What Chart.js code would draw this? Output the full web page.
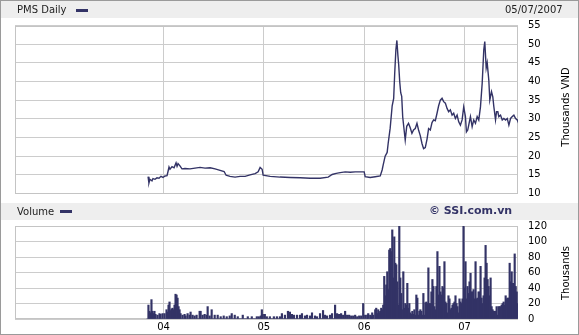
<!DOCTYPE html>
<html><head><meta charset="utf-8">
<script src="https://cdn.jsdelivr.net/npm/chart.js@4"></script>
<style>
html,body{margin:0;padding:0;background:#fff;}
#wrap{position:relative;width:579px;height:335px;overflow:hidden;font-family:"DejaVu Sans",Verdana,sans-serif;background:#fff;}
.band{position:absolute;left:1px;width:577px;background:#eeeeee;}
.lbl{position:absolute;font-size:10px;color:#222;line-height:12px;white-space:nowrap;}
.key{position:absolute;width:12px;height:3px;background:#333366;}
canvas{position:absolute;left:0;top:0;}
.ytitle{position:absolute;font-size:10px;color:#000;white-space:nowrap;line-height:12px;transform:translate(-50%,-50%) rotate(-90deg);}
#border{position:absolute;left:0;top:0;width:579px;height:335px;box-sizing:border-box;border:1px solid #9a9a9a;pointer-events:none;}
</style></head>
<body>
<div id="wrap">
  <div class="band" style="top:1px;height:17px;"></div>
  <div class="band" style="top:203px;height:17px;"></div>
  <canvas id="priceChart" width="579" height="335"></canvas>
  <canvas id="volChart" width="579" height="335"></canvas>
  <div class="lbl" style="left:17px;top:4px;">PMS Daily</div>
  <div class="key" style="left:76px;top:9px;"></div>
  <div class="lbl" style="left:505px;top:4px;">05/07/2007</div>
  <div class="lbl" style="left:17px;top:206px;">Volume</div>
  <div class="key" style="left:60px;top:210px;"></div>
  <div class="lbl" style="left:429px;top:205px;font-weight:bold;font-size:11px;color:#333366;">© SSI.com.vn</div>
  <div class="ytitle" style="left:566px;top:107px;">Thousands VND</div>
  <div class="ytitle" style="left:566px;top:273px;">Thousands</div>
  <div id="border"></div>
</div>
<script>
// ---- data ----
// price: time in decimal years, close in thousands VND
const priceDates = [
 2003.846,2003.855,2003.865,2003.885,2003.895,2003.915,2003.935,2003.955,2003.975,2003.995,
 2004.015,2004.035,2004.045,2004.055,2004.065,2004.085,2004.105,2004.125,2004.135,2004.145,
 2004.164,2004.184,2004.214,2004.264,2004.314,2004.364,2004.414,2004.464,2004.514,2004.564,
 2004.604,2004.624,2004.663,2004.713,2004.763,2004.813,2004.863,2004.913,2004.943,2004.963,
 2004.983,2004.993,2005.063,2005.162,2005.262,2005.362,2005.462,2005.561,2005.641,2005.681,
 2005.721,2005.761,2005.811,2005.861,2005.911,2005.960,2006.000,2006.010,2006.060,2006.110,
 2006.160,2006.179,2006.189,2006.209,2006.229,2006.239,2006.259,2006.279,2006.294,2006.304,
 2006.316,2006.326,2006.336,2006.344,2006.354,2006.364,2006.374,2006.384,2006.394,2006.409,
 2006.424,2006.442,2006.459,2006.476,2006.492,2006.509,2006.526,2006.542,2006.559,2006.576,
 2006.592,2006.609,2006.626,2006.642,2006.659,2006.676,2006.692,2006.709,2006.726,2006.742,
 2006.759,2006.776,2006.792,2006.809,2006.826,2006.842,2006.859,2006.876,2006.892,2006.909,
 2006.926,2006.942,2006.959,2006.976,2006.992,2007.009,2007.019,2007.032,2007.042,2007.059,
 2007.076,2007.092,2007.109,2007.126,2007.142,2007.159,2007.176,2007.192,2007.202,2007.216,
 2007.226,2007.242,2007.252,2007.269,2007.282,2007.292,2007.309,2007.319,2007.332,2007.342,
 2007.359,2007.376,2007.392,2007.409,2007.426,2007.442,2007.459,2007.476,2007.492,2007.509,
 2007.526,2007.532
];
const priceValues = [
 14.5,12.8,13.8,13.4,14.0,13.8,14.2,14.1,14.6,14.3,
 14.7,14.8,15.9,17.1,16.5,17.2,16.9,18.2,17.3,18.0,
 17.4,16.6,16.7,16.6,16.8,17.0,16.8,16.9,16.6,16.2,
 15.9,14.9,14.6,14.4,14.6,14.6,15.0,15.3,15.8,17.0,
 16.5,14.9,14.6,14.4,14.3,14.2,14.1,14.1,14.4,15.1,
 15.4,15.6,15.8,15.7,15.8,15.8,15.8,14.5,14.3,14.5,
 14.7,16.3,17.6,20.0,21.0,23.4,27.5,33.5,35.5,42.0,
 48.5,51.0,47.0,44.5,40.0,37.0,36.0,30.5,28.0,24.3,
 28.0,28.8,27.6,26.1,27.0,27.4,28.8,27.0,25.5,23.4,
 22.0,22.3,24.5,27.4,27.0,29.0,29.7,29.5,31.5,33.5,
 35.0,35.5,34.6,34.2,32.8,31.9,32.4,31.0,31.5,30.1,
 31.0,29.2,28.3,29.7,33.2,30.6,26.5,27.0,28.3,30.6,
 27.9,29.7,28.8,30.6,29.7,33.2,39.5,48.5,50.7,43.6,
 45.0,40.4,35.0,37.3,35.9,33.3,29.7,31.9,31.9,30.6,
 31.0,29.7,30.1,29.7,30.1,28.3,30.1,30.6,31.0,30.1,
 29.7,29.3
];
// volume (thousands of shares); one bar per 0.01-year period starting at volumeStartYear
const volumeStartYear = 2003.84;
const volumePeriodYears = 0.01;
const volumeValues = [
 0,18,10,8,25,10,7,10,6,0,
 5,0,7,6,0,7,0,7,0,12,
 9,18,22,11,13,14,12,18,32,31,
 27,16,12,7,0,5,0,6,4,0,
 7,0,5,9,0,5,0,4,0,5,
 0,0,10,10,0,5,0,6,0,5,
 16,0,4,0,12,0,0,5,0,0,
 5,0,0,3,0,0,4,0,0,3,
 0,0,4,0,7,0,0,5,0,0,
 3,0,0,0,0,5,0,0,0,0,
 3,0,0,0,3,0,0,0,0,3,
 0,3,0,4,12,6,0,6,0,3,
 0,0,3,0,0,0,3,0,0,3,
 0,0,3,0,7,0,0,5,0,0,
 10,0,9,0,6,0,5,0,0,5,
 0,0,5,0,7,0,0,4,0,5,
 0,0,4,0,8,0,0,4,0,3,
 0,0,7,0,0,11,0,5,0,4,
 0,0,5,0,7,0,0,18,0,7,
 0,6,0,7,0,5,0,10,0,5,
 0,5,0,4,0,4,0,5,0,3,
 0,4,0,4,0,20,0,5,0,5,
 7,0,5,4,8,5,0,12,14,7,
 12,8,10,14,12,18,55,30,44,61,
 38,89,91,87,115,53,106,72,70,48,
 18,120,53,33,12,61,14,20,18,46,
 14,20,8,6,10,6,12,5,31,27,
 5,10,12,10,5,33,5,21,22,20,
 66,20,20,35,51,42,16,12,42,87,
 31,68,35,31,42,40,74,22,20,8,
 30,26,12,14,18,20,22,30,20,16,
 8,26,22,20,26,120,40,74,26,42,
 33,48,59,35,35,38,26,74,26,27,
 35,35,68,27,20,30,53,95,72,51,
 42,30,53,16,12,10,10,10,16,5,
 16,16,16,18,20,22,18,30,26,27,
 27,72,48,61,46,46,84,42,35,20
];
const yearTicks = [2004, 2005, 2006, 2007];
const yearLabels = ['04', '05', '06', '07'];
const priceAxis = {min: 10, max: 55, step: 5};
const volumeAxis = {min: 0, max: 120, step: 20};
const xRange = {min: 2002.52, max: 2007.533};

// ---- chart setup ----
Chart.defaults.font.family = '"DejaVu Sans", Verdana, sans-serif';
Chart.defaults.font.size = 10;
Chart.defaults.color = '#000';
const NAVY = '#333366';
const GRID = '#cccccc';

const plotFrame = {
  id: 'plotFrame',
  beforeDatasetsDraw(chart) {
    const {ctx, chartArea: a} = chart;
    ctx.save();
    ctx.strokeStyle = '#c4c4c4';
    ctx.lineWidth = 1;
    const l = Math.round(a.left) + 0.5, t = Math.round(a.top) + 0.5;
    const r = Math.round(a.right) - 0.5, b = Math.round(a.bottom) - 0.5;
    ctx.strokeRect(l, t, r - l, b - t);
    ctx.restore();
  }
};

function xScale(showLabels) {
  return {
    type: 'linear', min: xRange.min, max: xRange.max, offset: false, bounds: 'data',
    afterBuildTicks: s => { s.ticks = yearTicks.map(v => ({value: v})); },
    afterFit: s => { s.height = showLabels ? 12 : 0; },
    grid: {color: GRID, drawTicks: false, lineWidth: 1, offset: false},
    border: {display: false},
    ticks: {display: showLabels, padding: 2, maxRotation: 0, autoSkip: false,
      callback: v => yearLabels[yearTicks.indexOf(v)] ?? ''}
  };
}
function yScale(ax) {
  return {
    position: 'right', min: ax.min, max: ax.max,
    afterFit: s => { s.width = 61; },
    grid: {color: GRID, drawTicks: false},
    border: {display: false},
    ticks: {stepSize: ax.step, padding: 10, color: '#000'}
  };
}

new Chart(document.getElementById('priceChart'), {
  type: 'line',
  data: {datasets: [{
    data: priceDates.map((d, i) => ({x: d, y: priceValues[i]})),
    borderColor: NAVY, borderWidth: 1.4, pointRadius: 0, tension: 0, fill: false
  }]},
  options: {
    responsive: false, animation: false, devicePixelRatio: 1,
    layout: {padding: {left: 15, top: 25.5, right: 0, bottom: 141.5}},
    plugins: {legend: {display: false}, tooltip: {enabled: false}},
    scales: {x: xScale(false), y: yScale(priceAxis)}
  },
  plugins: [plotFrame]
});

new Chart(document.getElementById('volChart'), {
  type: 'bar',
  data: {datasets: [{
    data: volumeValues.map((v, i) => ({x: volumeStartYear + i * volumePeriodYears, y: v})),
    backgroundColor: NAVY, borderWidth: 0, barThickness: 1.5
  }]},
  options: {
    responsive: false, animation: false, devicePixelRatio: 1,
    layout: {padding: {left: 15, top: 226, right: 0, bottom: 3.5}},
    plugins: {legend: {display: false}, tooltip: {enabled: false}},
    scales: {x: xScale(true), y: yScale(volumeAxis)}
  },
  plugins: [plotFrame]
});
</script>
</body></html>
